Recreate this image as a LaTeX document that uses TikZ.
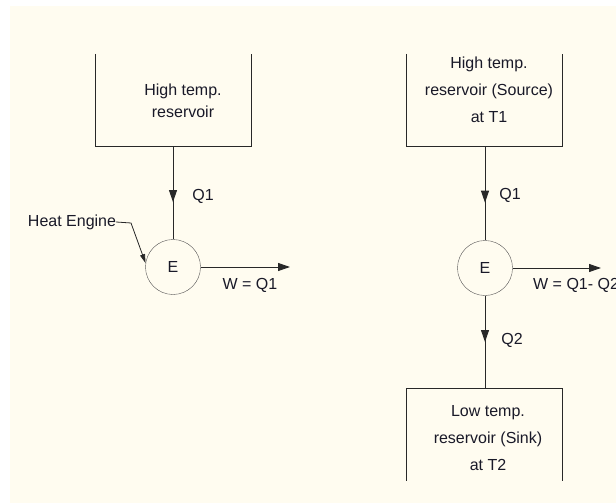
\documentclass[tikz,border=0pt]{standalone}
\usepackage{fontspec}
\setmainfont{Liberation Sans}
\usepackage{xcolor}
\usetikzlibrary{arrows.meta, decorations.markings}
\definecolor{bgcream}{RGB}{255,252,240}
\definecolor{inkline}{RGB}{40,40,40}
\definecolor{inktext}{RGB}{25,25,40}

\begin{document}
\begin{tikzpicture}[x=1pt, y=-1pt,
    resbox/.style={minimum width=155pt, minimum height=92pt, inner sep=0pt},
    restxt/.style={align=center, text=inktext, font=\fontsize{16}{27}\selectfont},
    lbl/.style={text=inktext, font=\fontsize{16}{18}\selectfont, inner sep=0pt},
    engine/.style={circle, draw=inkline!80, minimum size=55pt, inner sep=0pt,
                   text=inktext, font=\fontsize{16}{18}\selectfont},
    flow/.style={draw=inkline, line width=1pt, postaction={decorate},
                 decoration={markings, mark=at position #1 with
                   {\arrow[inkline]{Triangle[length=12pt,width=8pt]}}}},
    work/.style={draw=inkline, line width=1pt, -{Triangle[length=12pt,width=8pt]}},
    ptr/.style={draw=inkline, line width=0.8pt, -{Triangle[length=9pt,width=5pt]}}
  ]
    \useasboundingbox (0,0) rectangle (616,503);
    \fill[bgcream] (10,6) rectangle (616,503);

    % first picture: engine only
    \node[resbox] (hotA) at (173.5,100) {};
    \node[restxt, font=\fontsize{16}{22}\selectfont] (hotAtxt) at (183,101)
      {High temp.\\reservoir};
    \node[engine] (engA) at (173,267) {E};
    \coordinate (wA) at (290,267);
    \draw[inkline, line width=1pt] (hotA.north west) |- (hotA.south east) -- (hotA.north east);
    \draw[flow=0.6] (hotA.south -| engA) -- (engA.north);
    \draw[work] (engA.east) -- (wA);
    \node[lbl] (qA) at (203,196) {Q1};
    \node[lbl] (wAlbl) at (250,285) {W = Q1};
    \node[lbl] (heatlbl) at (72,222) {Heat Engine};
    \coordinate (bend) at (131,223);
    \draw[ptr] (heatlbl.east) -- (bend) -- (engA.172);

    % second picture: source and sink
    \node[resbox] (hotB) at (484.5,100) {};
    \node[restxt] (hotBtxt) at (489,90)
      {High temp.\\reservoir (Source)\\at T1};
    \node[engine] (engB) at (485,268) {E};
    \node[resbox] (coldB) at (484.5,434.5) {};
    \node[restxt] (coldBtxt) at (488,438)
      {Low temp.\\reservoir (Sink)\\at T2};
    \coordinate (wB) at (601,268);
    \draw[inkline, line width=1pt] (hotB.north west) |- (hotB.south east) -- (hotB.north east);
    \draw[inkline, line width=1pt] (coldB.south west) |- (coldB.north east) -- (coldB.south east);
    \draw[flow=0.6] (hotB.south -| engB) -- (engB.north);
    \draw[flow=0.5] (engB.south) -- (coldB.north -| engB);
    \draw[work] (engB.east) -- (wB);
    \node[lbl] (qB) at (510,195) {Q1};
    \node[lbl] (qC) at (512,340) {Q2};
    \node[lbl, anchor=west] (wBlbl) at (533,285) {W = Q1- Q2};
  \end{tikzpicture}
\end{document}
